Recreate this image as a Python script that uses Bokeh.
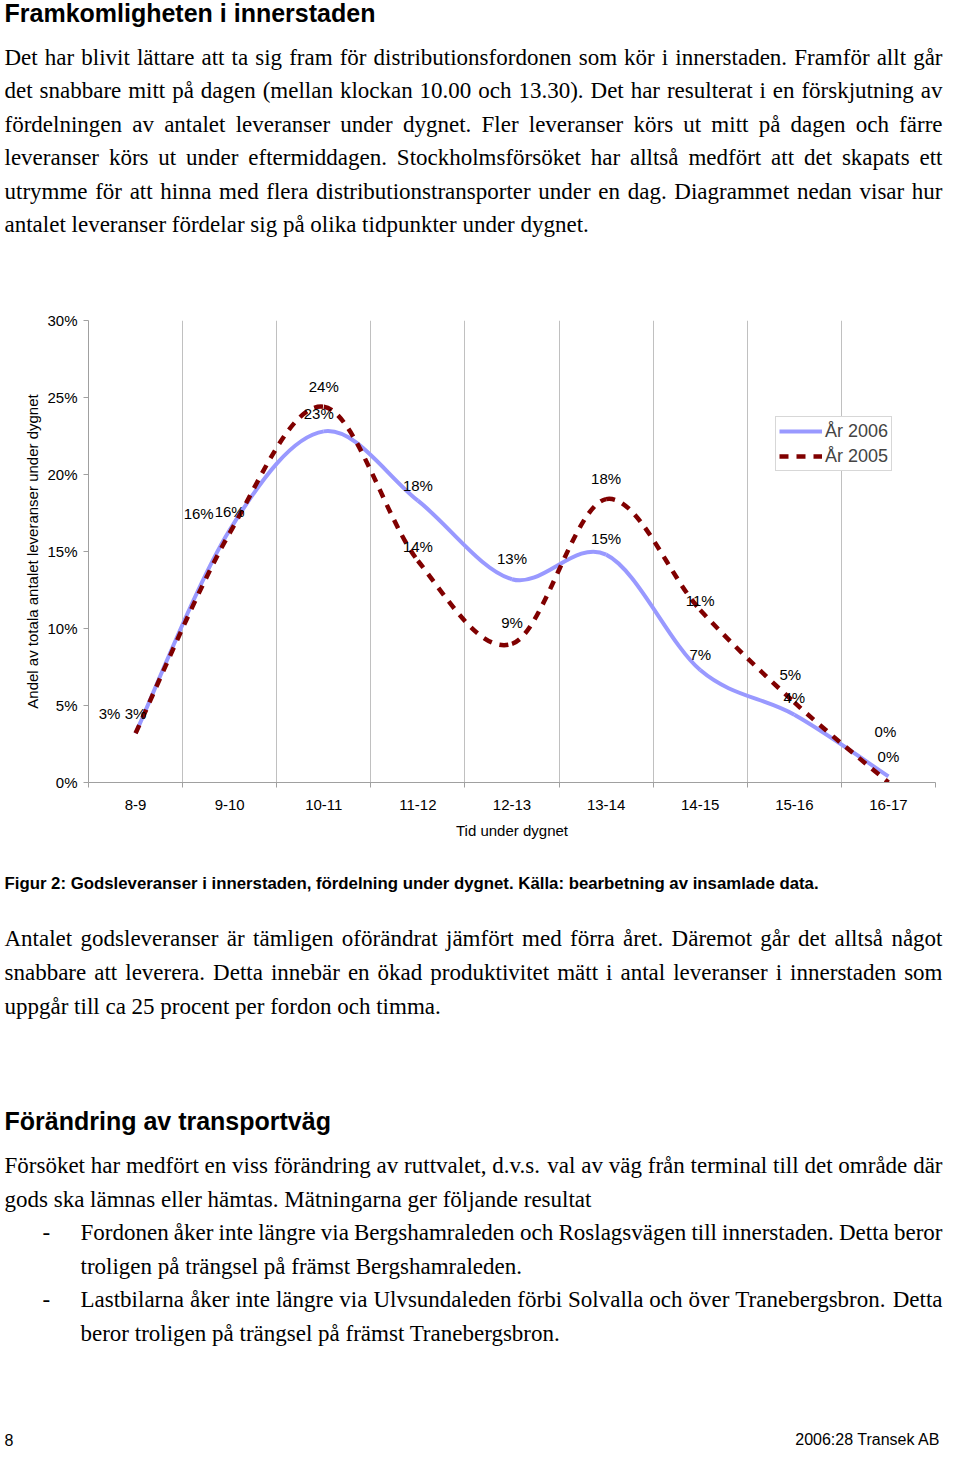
import numpy as np
from bokeh.plotting import figure
from bokeh.layouts import column
from bokeh.models import (Range1d, FixedTicker, PrintfTickFormatter, ColumnDataSource,
                          Legend, LegendItem)
from bokeh.core.properties import value
from bokeh.embed import file_html
from bokeh.resources import INLINE

# ---------------- data ----------------
hours = ["8-9", "9-10", "10-11", "11-12", "12-13", "13-14", "14-15", "15-16", "16-17"]
share_2006 = [3.2, 16.4, 22.8, 18.3, 13.2, 14.8, 7.3, 4.4, 0.4]
share_2005 = [3.2, 16.2, 24.4, 14.4, 9.0, 18.4, 11.2, 5.2, 0.0]
series_names = ["År 2006", "År 2005"]
y_ticks = [0, 5, 10, 15, 20, 25, 30]
y_axis_title = "Andel av totala antalet leveranser under dygnet"
x_axis_title = "Tid under dygnet"

# label offsets (screen px) for the data labels
dx_2006 = [0, 0, -5, 0, 0, 0, 0, 0, -3]
dy_2006 = [-20, -18, -18, -15, -21, -16, -16, -17, -45]
dx_2005 = [-26, -31, 0, 0, 0, 0, 0, -4, 0]
dy_2005 = [-20, -20, -20, -14, -21, -21, -10, -28, -26]

heading_1 = "Framkomligheten i innerstaden"
para_1 = [
    "Det har blivit lättare att ta sig fram för distributionsfordonen som kör i innerstaden. Framför allt går",
    "det snabbare mitt på dagen (mellan klockan 10.00 och 13.30). Det har resulterat i en förskjutning av",
    "fördelningen av antalet leveranser under dygnet. Fler leveranser körs ut mitt på dagen och färre",
    "leveranser körs ut under eftermiddagen. Stockholmsförsöket har alltså medfört att det skapats ett",
    "utrymme för att hinna med flera distributionstransporter under en dag. Diagrammet nedan visar hur",
    "antalet leveranser fördelar sig på olika tidpunkter under dygnet.",
]
caption = "Figur 2: Godsleveranser i innerstaden, fördelning under dygnet. Källa: bearbetning av insamlade data."
para_2 = [
    "Antalet godsleveranser är tämligen oförändrat jämfört med förra året. Däremot går det alltså något",
    "snabbare att leverera. Detta innebär en ökad produktivitet mätt i antal leveranser i innerstaden som",
    "uppgår till ca 25 procent per fordon och timma.",
]
heading_2 = "Förändring av transportväg"
para_3 = [
    "Försöket har medfört en viss förändring av ruttvalet, d.v.s. val av väg från terminal till det område där",
    "gods ska lämnas eller hämtas. Mätningarna ger följande resultat",
]
bullets = [
    ["Fordonen åker inte längre via Bergshamraleden och Roslagsvägen till innerstaden. Detta beror",
     "troligen på trängsel på främst Bergshamraleden."],
    ["Lastbilarna åker inte längre via Ulvsundaleden förbi Solvalla och över Tranebergsbron. Detta",
     "beror troligen på trängsel på främst Tranebergsbron."],
]
page_no = "8"
footer = "2006:28 Transek AB"

# ---------------- helpers ----------------
W = 944
TOP_H, CHART_H, BOT_H = 300, 550, 598
SERIF = value("Liberation Serif")
SANS = value("Liberation Sans")
BODY = 23
LEAD = 33.5
TXT_L, TXT_R = 4, 942

TIMES = {" ": 250, "(": 333, ")": 333, ",": 250, "-": 333, ".": 250, ":": 278,
         "A": 722, "B": 667, "C": 667, "D": 722, "E": 611, "F": 556, "G": 722, "H": 722,
         "I": 333, "J": 389, "K": 722, "L": 611, "M": 889, "N": 722, "O": 722, "P": 556,
         "Q": 722, "R": 667, "S": 556, "T": 611, "U": 722, "V": 722, "W": 944, "X": 722,
         "Y": 722, "Z": 611, "Å": 722, "Ä": 722, "Ö": 722,
         "a": 444, "b": 500, "c": 444, "d": 500, "e": 444, "f": 333, "g": 500, "h": 500,
         "i": 278, "j": 278, "k": 500, "l": 278, "m": 778, "n": 500, "o": 500, "p": 500,
         "q": 500, "r": 333, "s": 389, "t": 278, "u": 500, "v": 500, "w": 722, "x": 500,
         "y": 500, "z": 444, "å": 444, "ä": 444, "ö": 500, "é": 444}


def tw(s, size):
    return sum(TIMES.get(c, 500) for c in s) * size / 1000.0


def lay_line(line, x0, x1, y, size, justify):
    words = line.split(" ")
    if not justify or len(words) < 2:
        return [(x0, y, line)]
    widths = [tw(w, size) for w in words]
    gap = (x1 - x0 - sum(widths)) / (len(words) - 1)
    out, x = [], x0
    for w, wd in zip(words, widths):
        out.append((x, y, w))
        x += wd + gap
    return out


def lay_para(lines, x0, x1, y0, size=BODY, lead=LEAD):
    items = []
    for k, ln in enumerate(lines):
        items += lay_line(ln, x0, x1, y0 + k * lead, size, k < len(lines) - 1)
    return items


def text_fig(h):
    f = figure(width=W, height=h, x_range=Range1d(0, W), y_range=Range1d(h, 0),
               x_axis_location=None, y_axis_location=None, toolbar_location=None,
               tools="", output_backend="svg", min_border=0, outline_line_color=None,
               frame_align=False)
    f.grid.visible = False
    return f


def add_text(f, items, font, size, style="normal", align="left"):
    xs, ys, ts = zip(*items)
    f.text(x=list(xs), y=list(ys), text=list(ts), text_font=font,
           text_font_size=value(f"{size}px"), text_font_style=style,
           text_align=align, text_baseline="alphabetic", text_color="#000000")


# ---------------- top text ----------------
top = text_fig(TOP_H)
add_text(top, [(TXT_L, 12, heading_1)], SANS, 25, "bold")
add_text(top, lay_para(para_1, TXT_L, TXT_R, 56.8), SERIF, BODY)

# ---------------- chart ----------------
n = len(hours)
xi = np.arange(n, dtype=float)
chart = figure(width=W, height=CHART_H, x_range=Range1d(-0.5, n - 0.5),
               y_range=Range1d(y_ticks[0], y_ticks[-1]),
               toolbar_location=None, tools="", output_backend="svg",
               min_border_left=88, min_border_right=9, min_border_top=20,
               min_border_bottom=68, outline_line_color=None, frame_align=False)

xt = FixedTicker(ticks=list(range(n)), minor_ticks=[i - 0.5 for i in range(n + 1)])
xa = chart.xaxis[0]
ya = chart.yaxis[0]
xa.ticker = xt
xa.major_label_overrides = {i: h for i, h in enumerate(hours)}
ya.ticker = FixedTicker(ticks=y_ticks)
ya.formatter = PrintfTickFormatter(format="%d%%")
for ax in (xa, ya):
    ax.axis_line_color = "#a0a0a0"
    ax.major_label_text_font = "Liberation Sans"
    ax.major_label_text_font_size = "15px"
    ax.major_label_text_color = "#000000"
    ax.axis_label_text_font = "Liberation Sans"
    ax.axis_label_text_font_size = "15px"
    ax.axis_label_text_font_style = "normal"
    ax.axis_label_text_color = "#000000"
xa.axis_label = x_axis_title
ya.axis_label = y_axis_title
xa.major_tick_line_color = None
xa.major_tick_out = 5
xa.major_tick_in = 0
xa.minor_tick_line_color = "#a0a0a0"
xa.minor_tick_out = 5
xa.minor_tick_in = 0
xa.major_label_standoff = 12
xa.axis_label_standoff = 9
ya.major_tick_line_color = "#a0a0a0"
ya.major_tick_out = 5
ya.major_tick_in = 0
ya.minor_tick_line_color = None
ya.major_label_standoff = 6
ya.axis_label_standoff = 3

chart.ygrid.grid_line_color = None
chart.xgrid.ticker = xt
chart.xgrid.grid_line_color = None
chart.xgrid.minor_grid_line_color = "#c0c0c0"


def bezier_source(vals):
    v = np.asarray(vals, dtype=float)
    xp = np.concatenate([[xi[0]], xi, [xi[-1]]])
    vp = np.concatenate([[v[0]], v, [v[-1]]])
    return ColumnDataSource(dict(
        x0=xi[:-1], y0=v[:-1], x1=xi[1:], y1=v[1:],
        cx0=xi[:-1] + (xp[2:n + 1] - xp[0:n - 1]) / 6.0,
        cy0=v[:-1] + (vp[2:n + 1] - vp[0:n - 1]) / 6.0,
        cx1=xi[1:] - (xp[3:n + 2] - xp[1:n]) / 6.0,
        cy1=v[1:] - (vp[3:n + 2] - vp[1:n]) / 6.0,
    ))


r06 = chart.bezier(x0="x0", y0="y0", x1="x1", y1="y1", cx0="cx0", cy0="cy0",
                   cx1="cx1", cy1="cy1", source=bezier_source(share_2006),
                   line_color="#9999FF", line_width=4)
r05 = chart.bezier(x0="x0", y0="y0", x1="x1", y1="y1", cx0="cx0", cy0="cy0",
                   cx1="cx1", cy1="cy1", source=bezier_source(share_2005),
                   line_color="#800000", line_width=4.5, line_dash="9 8")

lab = ColumnDataSource(dict(
    x=list(xi) + list(xi),
    y=list(share_2006) + list(share_2005),
    text=[f"{round(v)}%" for v in share_2006] + [f"{round(v)}%" for v in share_2005],
    dx=dx_2006 + dx_2005,
    dy=dy_2006 + dy_2005,
))
chart.text(x="x", y="y", text="text", x_offset="dx", y_offset="dy", source=lab,
           text_align="center", text_baseline="middle", text_font=SANS,
           text_font_size=value("15px"), text_color="#000000")

legend = Legend(items=[LegendItem(label=series_names[0], renderers=[r06]),
                       LegendItem(label=series_names[1], renderers=[r05])],
                location=(687, 311), orientation="vertical", padding=3, spacing=3,
                margin=0, glyph_width=43, glyph_height=22, label_height=22,
                label_standoff=3, label_text_font="Liberation Sans",
                label_text_font_size="18px", border_line_color="#b0b0b0",
                background_fill_color="white", background_fill_alpha=1.0)
chart.add_layout(legend)

# ---------------- bottom text ----------------
bot = text_fig(BOT_H)
add_text(bot, [(TXT_L, 33, caption)], SANS, 16.8, "bold")
add_text(bot, lay_para(para_2, TXT_L, TXT_R, 88.3, lead=33.8), SERIF, BODY)
add_text(bot, [(TXT_L, 270, heading_2)], SANS, 25, "bold")
items = lay_para(para_3, TXT_L, TXT_R, 315.3)
yb = 315.3 + 2 * LEAD
for b in bullets:
    items.append((42, yb, "-"))
    items += lay_para(b, 80, TXT_R, yb)
    yb += 2 * LEAD
add_text(bot, items, SERIF, BODY)
add_text(bot, [(TXT_L, 589, page_no)], SANS, 16)
add_text(bot, [(TXT_R - 2, 589, footer)], SANS, 16, align="right")

page = column(top, chart, bot, spacing=0)
open("out.html", "w").write(file_html(page, INLINE))
